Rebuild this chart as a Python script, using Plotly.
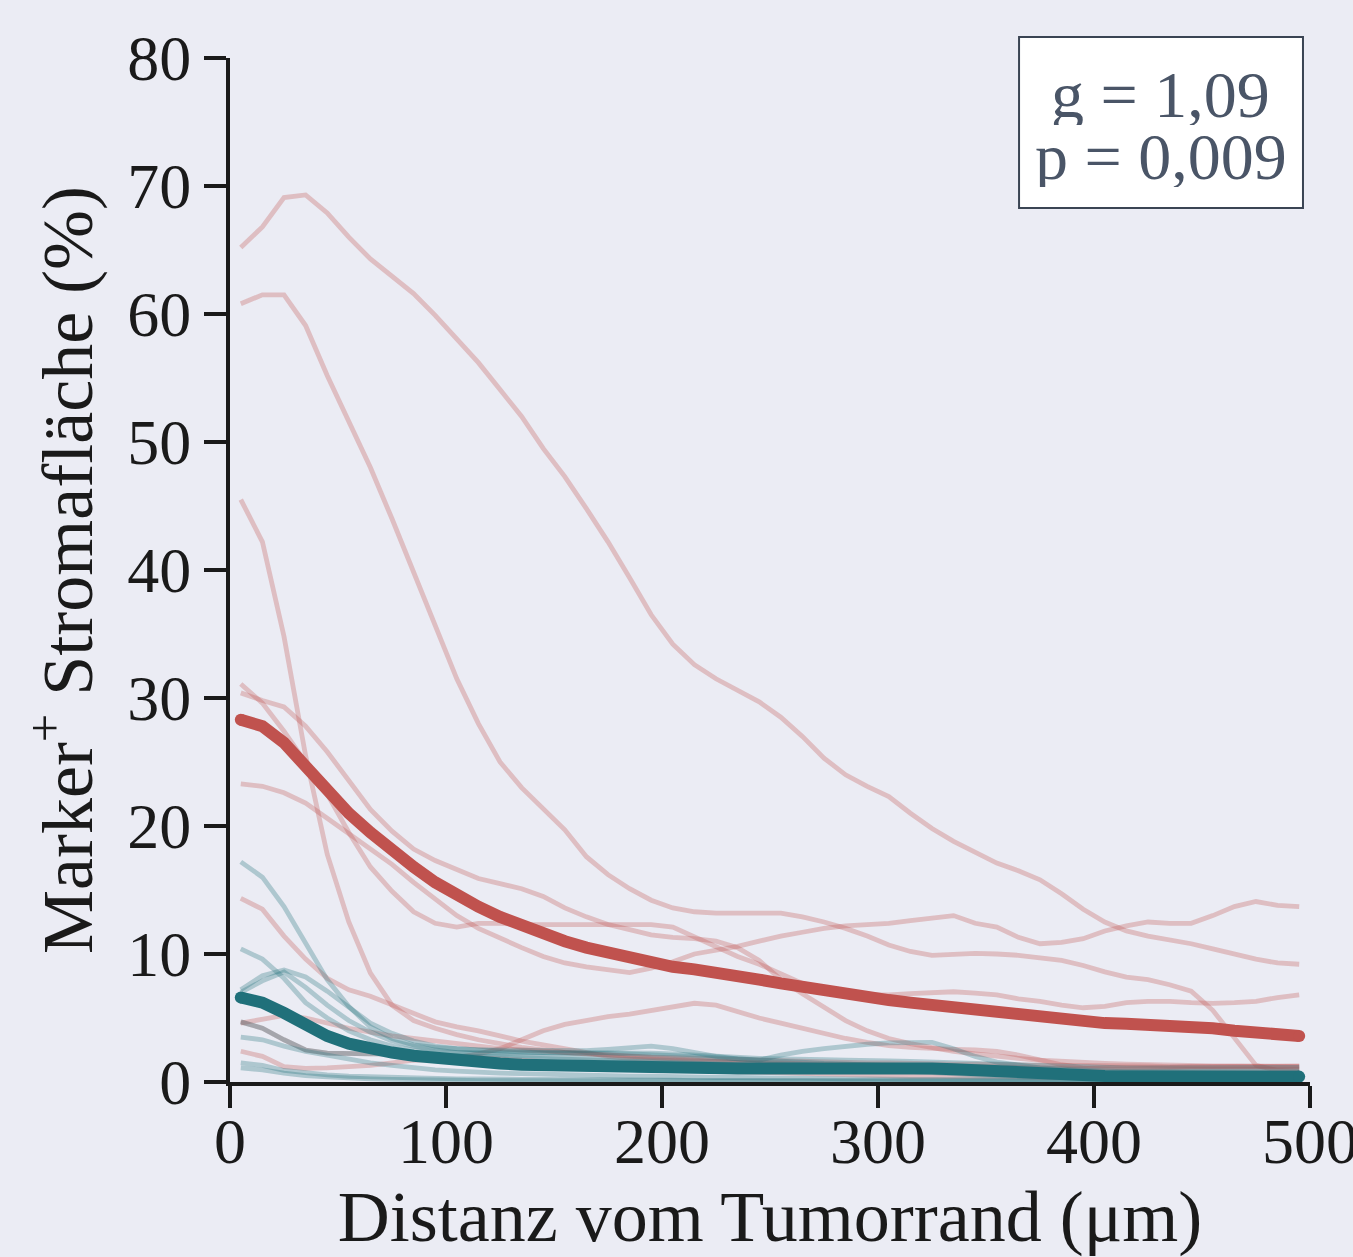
import plotly.graph_objects as go

# Sampling grid: distance from tumour margin (µm), bin centres every 10 µm
distance_um = list(range(5, 500, 10))

# Marker-positive stroma area (%) per case, high group (red)
high_case_1 = [65.2, 66.8, 69.1, 69.3, 67.9, 66.0, 64.3, 63.0, 61.6, 59.9,
               58.1, 56.2, 54.1, 52.0, 49.5, 47.3, 44.8, 42.2, 39.4, 36.5,
               34.2, 32.6, 31.5, 30.6, 29.7, 28.5, 27.0, 25.3, 24.0, 23.1,
               22.3, 21.0, 19.8, 18.8, 17.9, 17.1, 16.5, 15.8, 14.7, 13.5,
               12.5, 11.8, 11.4, 11.1, 10.8, 10.4, 10.0, 9.6, 9.3, 9.2]
high_case_2 = [60.8, 61.5, 61.5, 59.1, 55.2, 51.6, 48.0, 44.0, 39.8, 35.5,
               31.5, 28.0, 25.0, 23.0, 21.3, 19.7, 17.6, 16.2, 15.1, 14.2,
               13.6, 13.3, 13.2, 13.2, 13.2, 13.2, 12.9, 12.5, 12.0, 11.4,
               10.7, 10.2, 9.9, 10.0, 10.05, 10.0, 9.9, 9.7, 9.5, 9.1,
               8.6, 8.2, 8.0, 7.6, 7.1, 5.6, 3.5, 1.3, 0.9, 0.8]
high_case_3 = [45.5, 42.2, 34.8, 25.5, 17.8, 12.5, 8.5, 6.0, 4.8, 4.2,
               3.7, 3.3, 3.0, 2.7, 2.5, 2.3, 2.2, 2.1, 2.0, 1.9,
               1.8, 1.7, 1.6, 1.5, 1.4, 1.3, 1.2, 1.1, 1.0, 0.95,
               0.9, 0.85, 0.8, 0.75, 0.7, 0.65, 0.6, 0.55, 0.5, 0.5,
               0.5, 0.5, 0.5, 0.5, 0.5, 0.5, 0.5, 0.5, 0.5, 0.5]
high_case_4 = [31.1, 29.6, 27.4, 25.0, 22.5, 19.5, 16.8, 14.9, 13.3, 12.4,
               12.1, 12.4, 12.4, 12.3, 12.3, 12.3, 12.3, 12.3, 12.3, 12.3,
               12.1, 11.3, 10.5, 9.8, 9.2, 8.4, 7.7, 7.3, 7.0, 6.8,
               6.8, 6.9, 7.0, 7.05, 6.95, 6.8, 6.5, 6.3, 6.0, 5.8,
               5.9, 6.2, 6.3, 6.3, 6.2, 6.15, 6.2, 6.3, 6.6, 6.8]
high_case_5 = [30.4, 29.8, 29.3, 27.8, 25.8, 23.6, 21.3, 19.6, 18.2, 17.3,
               16.6, 15.9, 15.5, 15.1, 14.5, 13.6, 12.9, 12.3, 11.9, 11.5,
               11.3, 11.2, 11.0, 10.5, 9.5, 8.0, 6.9, 5.8, 4.8, 4.0,
               3.4, 3.0, 2.7, 2.4, 2.2, 2.0, 1.85, 1.7, 1.6, 1.5,
               1.45, 1.4, 1.35, 1.3, 1.3, 1.25, 1.25, 1.25, 1.2, 1.2]
high_case_6 = [23.3, 23.1, 22.6, 21.8, 20.6, 19.4, 18.1, 17.0, 15.6, 14.3,
               13.0, 12.0, 11.2, 10.5, 9.8, 9.3, 9.0, 8.75, 8.55, 8.9,
               9.4, 10.0, 10.3, 10.6, 11.0, 11.4, 11.7, 12.0, 12.2, 12.3,
               12.4, 12.6, 12.8, 13.0, 12.4, 12.1, 11.3, 10.8, 10.9, 11.2,
               11.8, 12.2, 12.5, 12.4, 12.4, 13.0, 13.7, 14.1, 13.8, 13.7]
high_case_7 = [14.35, 13.5, 11.4, 9.6, 8.1, 7.2, 6.7, 6.0, 5.3, 4.7,
               4.3, 4.0, 3.6, 3.2, 2.9, 2.6, 2.3, 2.0, 1.85, 1.75,
               1.7, 1.65, 1.6, 1.55, 1.5, 1.5, 1.45, 1.4, 1.4, 1.35,
               1.3, 1.3, 1.25, 1.25, 1.2, 1.2, 1.15, 1.1, 1.1, 1.05,
               1.0, 1.0, 1.0, 1.0, 1.0, 1.0, 1.0, 1.0, 1.0, 1.0]
high_case_8 = [4.6, 4.9, 5.2, 5.0, 4.6, 4.2, 3.9, 3.6, 3.4, 3.2,
               3.0, 2.8, 2.6, 2.5, 2.4, 2.3, 2.2, 2.1, 2.0, 1.95,
               1.9, 1.85, 1.8, 1.75, 1.7, 1.65, 1.6, 1.6, 1.55, 1.5,
               1.5, 1.45, 1.45, 1.4, 1.4, 1.35, 1.35, 1.3, 1.3, 1.3,
               1.25, 1.25, 1.25, 1.2, 1.2, 1.2, 1.2, 1.2, 1.2, 1.2]
high_case_9 = [4.7, 4.2, 3.3, 2.5, 2.25, 2.2, 2.2, 2.2, 2.15, 2.1,
               2.0, 1.9, 1.8, 1.7, 1.6, 1.5, 1.4, 1.3, 1.2, 1.1,
               1.0, 0.9, 0.85, 0.8, 0.75, 0.7, 0.65, 0.6, 0.55, 0.5,
               0.5, 0.45, 0.45, 0.4, 0.4, 0.4, 0.35, 0.35, 0.35, 0.3,
               0.3, 0.3, 0.3, 0.3, 0.3, 0.3, 0.3, 0.3, 0.3, 0.3]
high_case_10 = [2.4, 2.0, 1.2, 1.07, 1.1, 1.2, 1.3, 1.5, 1.7, 1.75,
                1.9, 2.2, 2.6, 3.3, 4.0, 4.5, 4.8, 5.1, 5.3, 5.6,
                5.9, 6.15, 6.0, 5.5, 5.0, 4.6, 4.2, 3.8, 3.4, 3.1,
                2.85, 2.7, 2.6, 2.55, 2.5, 2.4, 2.1, 1.7, 1.35, 1.1,
                1.1, 1.1, 1.1, 1.15, 1.2, 1.2, 1.25, 1.25, 1.25, 1.25]
high_mean = [28.3, 27.8, 26.5, 24.6, 22.8, 21.0, 19.5, 18.0, 16.8, 15.6,
             14.6, 13.7, 12.9, 12.2, 11.6, 11.0, 10.5, 10.1, 9.7, 9.3,
             9.0, 8.8, 8.6, 8.3, 8.0, 7.7, 7.4, 7.1, 6.8, 6.6,
             6.4, 6.2, 6.0, 5.9, 5.8, 5.6, 5.4, 5.1, 4.9, 4.7,
             4.6, 4.55, 4.5, 4.45, 4.4, 4.2, 4.0, 3.8, 3.7, 3.6]

# Marker-positive stroma area (%) per case, low group (teal)
low_case_1 = [17.2, 16.0, 13.7, 10.8, 8.0, 5.9, 4.3, 3.4, 2.9, 2.7,
              2.6, 2.5, 2.5, 2.5, 2.5, 2.45, 2.45, 2.55, 2.7, 2.8,
              2.6, 2.3, 2.0, 1.8, 1.7, 2.1, 2.4, 2.6, 2.8, 2.95,
              3.05, 3.1, 3.1, 2.6, 2.0, 1.55, 1.3, 1.1, 1.0, 0.9,
              0.85, 0.8, 0.8, 0.8, 0.8, 0.8, 0.8, 0.8, 0.8, 0.8]
low_case_2 = [10.4, 9.6, 8.1, 6.2, 5.0, 4.0, 3.3, 2.8, 2.5, 2.35,
              2.3, 2.3, 2.3, 2.25, 2.25, 2.25, 2.3, 2.3, 2.3, 2.25,
              2.2, 2.1, 2.0, 1.9, 1.85, 1.8, 1.8, 1.75, 1.7, 1.7,
              1.65, 1.6, 1.55, 1.5, 1.45, 1.4, 1.3, 1.25, 1.2, 1.15,
              1.1, 1.1, 1.1, 1.1, 1.1, 1.1, 1.1, 1.15, 1.15, 1.15]
low_case_3 = [7.2, 8.3, 8.75, 8.2, 7.1, 5.9, 4.6, 3.8, 3.2, 2.8,
              2.6, 2.5, 2.4, 2.35, 2.3, 2.3, 2.3, 2.25, 2.2, 2.15,
              2.1, 2.0, 1.9, 1.8, 1.7, 1.6, 1.5, 1.45, 1.4, 1.35,
              1.3, 1.25, 1.2, 1.1, 1.0, 0.9, 0.85, 0.8, 0.75, 0.7,
              0.7, 0.65, 0.65, 0.6, 0.6, 0.6, 0.6, 0.6, 0.6, 0.6]
low_case_4 = [7.0, 7.9, 8.6, 7.4, 6.0, 4.8, 3.9, 3.2, 2.8, 2.5,
              2.3, 2.2, 2.1, 2.05, 2.0, 1.95, 1.9, 1.85, 1.8, 1.75,
              1.7, 1.65, 1.6, 1.55, 1.5, 1.45, 1.4, 1.35, 1.3, 1.25,
              1.2, 1.15, 1.1, 1.0, 0.9, 0.8, 0.75, 0.7, 0.65, 0.6,
              0.55, 0.5, 0.5, 0.5, 0.5, 0.5, 0.5, 0.5, 0.5, 0.5]
low_case_5 = [4.7, 4.2, 3.3, 2.5, 2.25, 2.2, 2.2, 2.2, 2.15, 2.1,
              2.05, 2.0, 1.95, 1.9, 1.85, 1.8, 1.75, 1.7, 1.65, 1.6,
              1.55, 1.5, 1.45, 1.4, 1.35, 1.3, 1.25, 1.2, 1.1, 1.0,
              0.9, 0.8, 0.7, 0.6, 0.55, 0.5, 0.45, 0.4, 0.4, 0.35,
              0.35, 0.3, 0.3, 0.3, 0.3, 0.3, 0.3, 0.3, 0.3, 0.3]
low_case_6 = [3.5, 3.3, 2.8, 2.4, 2.1, 1.8, 1.5, 1.3, 1.1, 0.95,
              0.85, 0.75, 0.7, 0.65, 0.6, 0.55, 0.5, 0.5, 0.45, 0.45,
              0.4, 0.4, 0.35, 0.35, 0.3, 0.3, 0.3, 0.25, 0.25, 0.25,
              0.2, 0.2, 0.2, 0.2, 0.15, 0.15, 0.15, 0.15, 0.1, 0.1,
              0.1, 0.1, 0.1, 0.1, 0.1, 0.1, 0.1, 0.1, 0.1, 0.1]
low_case_7 = [1.5, 1.3, 0.9, 0.7, 0.55, 0.45, 0.4, 0.35, 0.3, 0.3,
              0.25, 0.25, 0.2, 0.2, 0.2, 0.2, 0.15, 0.15, 0.15, 0.15,
              0.15, 0.1, 0.1, 0.1, 0.1, 0.1, 0.1, 0.1, 0.1, 0.1,
              0.1, 0.1, 0.1, 0.1, 0.1, 0.1, 0.1, 0.1, 0.1, 0.1,
              0.1, 0.1, 0.1, 0.1, 0.1, 0.1, 0.1, 0.1, 0.1, 0.1]
low_case_8 = [1.1, 0.95, 0.7, 0.5, 0.4, 0.3, 0.25, 0.2, 0.2, 0.15,
              0.15, 0.1, 0.1, 0.1, 0.1, 0.1, 0.1, 0.1, 0.1, 0.1,
              0.1, 0.1, 0.1, 0.1, 0.1, 0.08, 0.08, 0.08, 0.08, 0.08,
              0.06, 0.06, 0.06, 0.06, 0.06, 0.06, 0.06, 0.06, 0.06, 0.06,
              0.05, 0.05, 0.05, 0.05, 0.05, 0.05, 0.05, 0.05, 0.05, 0.05]
low_mean = [6.6, 6.2, 5.4, 4.5, 3.6, 3.0, 2.6, 2.3, 2.05, 1.85,
            1.7, 1.55, 1.45, 1.35, 1.3, 1.25, 1.2, 1.15, 1.1, 1.1,
            1.07, 1.05, 1.05, 1.05, 1.05, 1.07, 1.1, 1.1, 1.1, 1.1,
            1.1, 1.1, 1.05, 1.0, 0.9, 0.8, 0.7, 0.65, 0.55, 0.5,
            0.47, 0.45, 0.45, 0.45, 0.45, 0.45, 0.45, 0.42, 0.42, 0.42]

high_cases = [high_case_1, high_case_2, high_case_3, high_case_4, high_case_5,
              high_case_6, high_case_7, high_case_8, high_case_9, high_case_10]
low_cases = [low_case_1, low_case_2, low_case_3, low_case_4,
             low_case_5, low_case_6, low_case_7, low_case_8]

x_ticks = [0, 100, 200, 300, 400, 500]
y_ticks = [0, 10, 20, 30, 40, 50, 60, 70, 80]
stats_lines = ["g = 1,09", "p = 0,009"]

RED = "#C0524E"
TEAL = "#20707A"
RED_FAINT = "rgba(192,82,78,0.30)"
TEAL_FAINT = "rgba(32,112,122,0.30)"
INK = "#1a1a1a"
BG = "#EBECF4"
FONT = "Liberation Serif"

fig = go.Figure()


def add_profile(vals, color, width):
    xs = distance_um[:len(vals)]
    fig.add_trace(go.Scatter(x=xs, y=vals, mode="lines",
                             line=dict(color=color, width=width),
                             hoverinfo="skip", showlegend=False))


for vals in high_cases:
    add_profile(vals, RED_FAINT, 4.8)
for vals in low_cases:
    add_profile(vals, TEAL_FAINT, 4.8)

# Group means with rounded ends
for vals, color in [(high_mean, RED), (low_mean, TEAL)]:
    add_profile(vals, color, 12)
    xs = distance_um[:len(vals)]
    fig.add_trace(go.Scatter(x=[xs[0], xs[-1]], y=[vals[0], vals[-1]],
                             mode="markers",
                             marker=dict(color=color, size=12, line=dict(width=0)),
                             hoverinfo="skip", showlegend=False))

axis_common = dict(
    showline=True, linecolor=INK, linewidth=4,
    ticks="outside", ticklen=22, tickwidth=4, tickcolor=INK,
    showgrid=False, zeroline=False,
    ticklabeloverflow="allow",
)

fig.update_xaxes(range=[0, 500], tickvals=x_ticks, ticklabelstandoff=-22,
                 tickfont=dict(family=FONT, size=64, color=INK),
                 title=dict(text="Distanz vom Tumorrand (μm)",
                            font=dict(family=FONT, size=72, color=INK),
                            standoff=46),
                 **axis_common)
fig.update_yaxes(range=[0, 80], tickvals=y_ticks, ticklabelstandoff=0,
                 tickfont=dict(family=FONT, size=64, color=INK),
                 title=dict(text="Marker<sup>+</sup> Stromafläche (%)",
                            font=dict(family=FONT, size=72, color=INK),
                            standoff=12),
                 **axis_common)

# Effect-size box
fig.add_shape(type="rect", xref="paper", yref="paper",
              x0=0.7306, x1=0.9935, y0=0.8535, y1=1.0205,
              fillcolor="white", line=dict(color="#3A4453", width=2),
              layer="above")
for text, ypos in zip(stats_lines, [0.9650, 0.9040]):
    fig.add_annotation(text=text, xref="paper", yref="paper",
                       x=0.862, y=ypos, xanchor="center", yanchor="middle",
                       showarrow=False, height=62,
                       font=dict(family=FONT, size=66, color="#4A5567"))

fig.update_layout(
    width=1353, height=1257,
    margin=dict(l=230, r=43, t=58, b=175, autoexpand=False),
    paper_bgcolor=BG, plot_bgcolor=BG,
    font=dict(family=FONT, color=INK),
    showlegend=False,
)

fig.write_html("out.html")
